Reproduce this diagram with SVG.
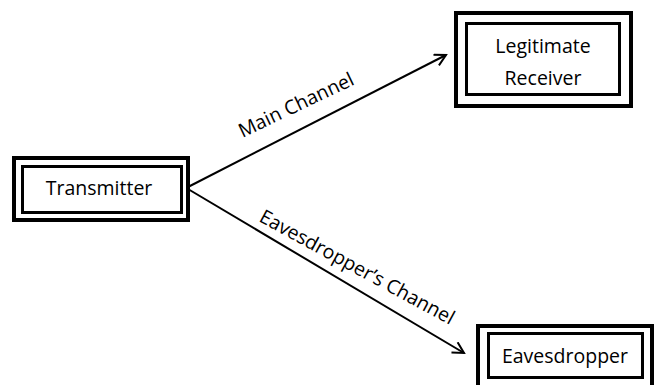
<svg xmlns="http://www.w3.org/2000/svg" width="662" height="385" viewBox="0 0 662 385">
<defs>
<style>
.box{fill:#fff;stroke:#000;stroke-width:4}
.inner{fill:none;stroke:#000;stroke-width:3}
.lbl{font-family:"Open Sans","Liberation Sans",sans-serif;font-size:19.5px;fill:#000;text-anchor:middle}
.edge{stroke:#000;stroke-width:2;fill:none}
</style>
<marker id="arr" markerWidth="14" markerHeight="14" refX="12" refY="7" orient="auto" markerUnits="userSpaceOnUse">
<path d="M1,1 L12,7 L1,13" fill="none" stroke="#000" stroke-width="2"/>
</marker>
</defs>
<g id="connectors">
<line class="edge" x1="188" y1="187" x2="446" y2="55" marker-end="url(#arr)"/>
<line class="edge" x1="188" y1="189" x2="464" y2="353" marker-end="url(#arr)"/>
<text class="lbl" transform="translate(299,111) rotate(-25.5)">Main Channel</text>
<text class="lbl" transform="translate(354,273) rotate(28.5)">Eavesdropper’s Channel</text>
</g>
<g id="transmitter">
<rect class="box" x="14" y="158" width="174" height="62"/>
<rect class="inner" x="22.5" y="166.5" width="159" height="46"/>
<text class="lbl" x="99" y="195">Transmitter</text>
</g>
<g id="receiver">
<rect class="box" x="456" y="13" width="175" height="93"/>
<rect class="inner" x="466.5" y="23.5" width="153" height="71"/>
<text class="lbl" x="543" y="53">Legitimate</text>
<text class="lbl" x="543" y="85">Receiver</text>
</g>
<g id="eavesdropper">
<rect class="box" x="478" y="326" width="174" height="62"/>
<rect class="inner" x="488.5" y="333.5" width="154" height="44"/>
<text class="lbl" x="565" y="363">Eavesdropper</text>
</g>
</svg>
